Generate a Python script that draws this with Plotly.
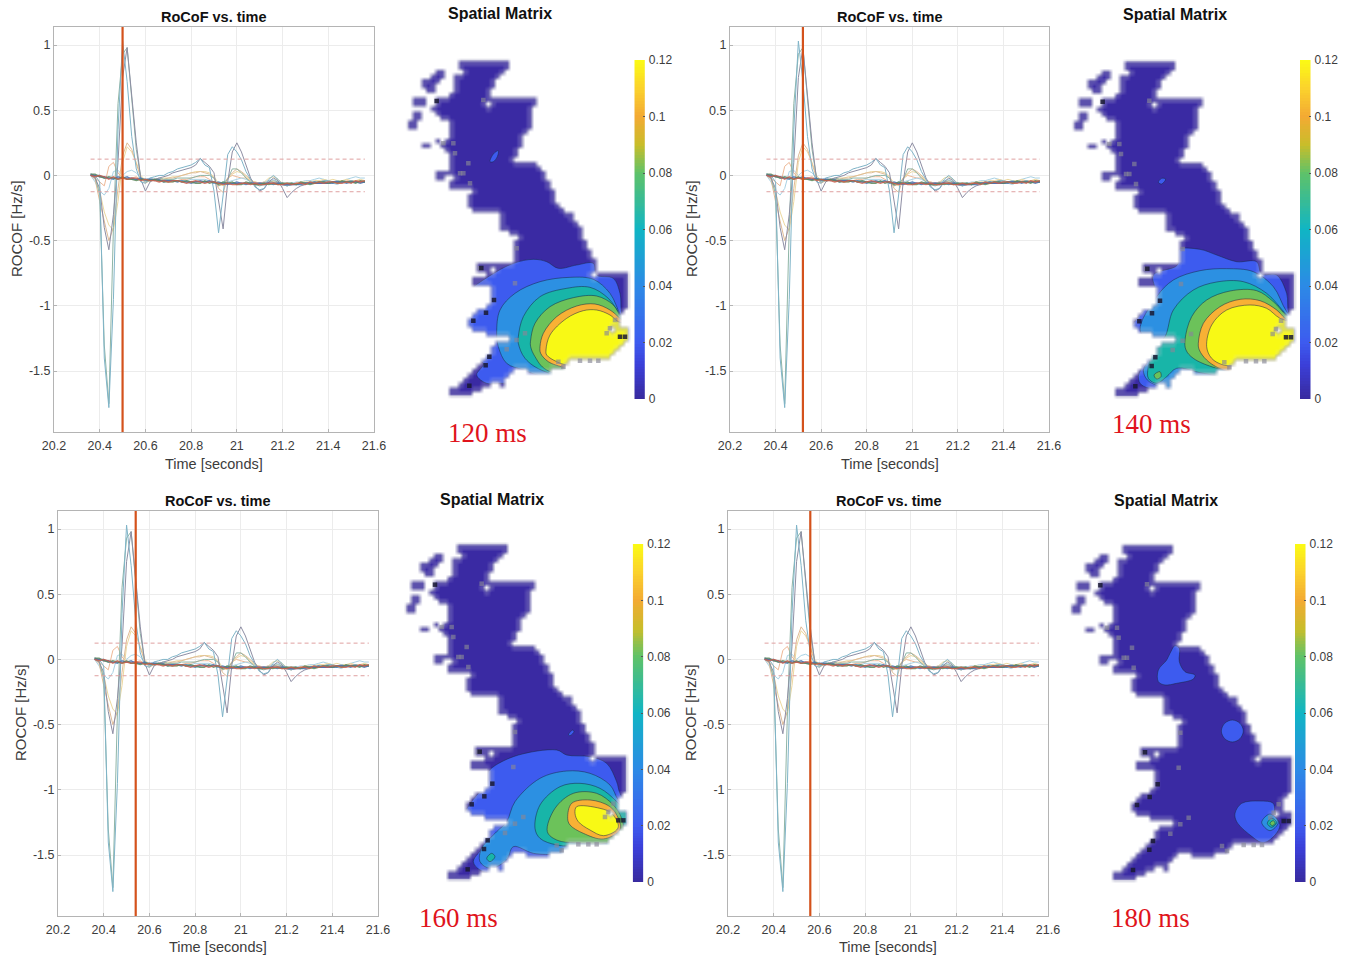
import plotly.graph_objects as go

W, H = 1351, 957

# ---------- time series (Hz/s), 0.02 s sampling ----------
TIME = [round(20.36 + 0.02 * i, 2) for i in range(61)]
S1 = [0.01,0.00,-0.05,-1.40,-1.78,-0.95,0.35,1.03,0.72,0.30,
      0.05,-0.05,-0.06,-0.02,-0.01,0.00,0.00,0.02,0.03,0.05,
      0.06,0.07,0.08,0.10,0.13,0.08,0.06,-0.12,-0.44,-0.15,
      0.16,0.22,0.18,0.12,0.03,-0.03,-0.09,-0.11,-0.10,-0.03,
      0.00,-0.03,-0.07,-0.08,-0.07,-0.07,-0.06,-0.06,-0.05,-0.05,
      -0.05,-0.04,-0.04,-0.05,-0.04,-0.05,-0.05,-0.04,-0.05,-0.05,
      -0.04]
S2 = [0.00,-0.02,-0.10,-0.40,-0.57,-0.30,0.10,0.75,0.98,0.62,
      0.25,-0.03,-0.12,-0.05,-0.03,-0.02,-0.01,0.00,0.02,0.03,
      0.04,0.05,0.06,0.08,0.13,0.10,0.07,0.02,-0.20,-0.41,
      -0.05,0.18,0.25,0.18,0.08,-0.02,-0.08,-0.12,-0.10,-0.05,
      -0.02,-0.04,-0.10,-0.17,-0.13,-0.10,-0.08,-0.07,-0.06,-0.06,
      -0.05,-0.05,-0.05,-0.05,-0.05,-0.05,-0.05,-0.04,-0.05,-0.05,
      -0.05]
S3 = [0.00,-0.01,-0.15,-1.30,-1.75,-0.40,0.55,0.93,0.98,0.60,
      0.20,-0.02,-0.05,-0.04,-0.03,-0.02,-0.03,-0.03,-0.03,-0.02,
      -0.02,-0.02,-0.02,-0.01,0.00,0.00,0.00,-0.02,-0.08,-0.06,
      -0.03,0.05,0.05,0.02,-0.02,-0.05,-0.07,-0.08,-0.07,-0.05,
      -0.04,-0.05,-0.07,-0.08,-0.07,-0.07,-0.06,-0.06,-0.06,-0.05,
      -0.05,-0.05,-0.05,-0.05,-0.05,-0.05,-0.05,-0.05,-0.05,-0.05,
      -0.05]
S4 = [0.00,-0.03,-0.20,-0.35,-0.50,-0.40,-0.10,0.15,0.25,0.20,
      0.08,-0.02,-0.06,-0.04,-0.04,-0.03,-0.03,-0.02,-0.02,-0.01,
      0.00,0.01,0.02,0.02,0.03,0.02,0.01,-0.02,-0.10,-0.13,
      -0.02,0.02,0.05,0.03,0.00,-0.03,-0.06,-0.07,-0.06,-0.05,
      -0.05,-0.06,-0.07,-0.08,-0.07,-0.07,-0.06,-0.06,-0.06,-0.05,
      -0.05,-0.05,-0.05,-0.05,-0.05,-0.05,-0.05,-0.05,-0.05,-0.05,
      -0.05]
S5 = [0.00,-0.02,-0.12,-0.28,-0.38,-0.42,-0.20,0.10,0.22,0.18,
      0.10,0.00,-0.04,-0.03,-0.03,-0.03,-0.02,-0.02,-0.01,-0.01,
      0.00,0.01,0.02,0.03,0.03,0.03,0.02,-0.01,-0.06,-0.08,
      -0.03,0.01,0.03,0.02,-0.01,-0.04,-0.05,-0.06,-0.05,-0.02,
      -0.01,-0.03,-0.06,-0.07,-0.07,-0.06,-0.05,-0.05,-0.05,-0.04,
      -0.04,-0.03,-0.04,-0.03,-0.04,-0.04,-0.03,-0.04,-0.04,-0.03,
      -0.04]
S6 = [0.00,-0.05,-0.12,-0.15,-0.10,0.03,0.04,0.00,0.03,0.04,
      0.02,-0.02,-0.03,-0.02,-0.03,-0.04,-0.03,-0.03,-0.03,-0.04,
      -0.04,-0.04,-0.03,-0.03,-0.03,-0.03,-0.04,-0.05,-0.06,-0.05,
      -0.05,-0.04,-0.03,-0.02,-0.03,-0.05,-0.06,-0.06,-0.05,-0.04,
      -0.03,-0.05,-0.06,-0.06,-0.06,-0.05,-0.05,-0.04,-0.04,-0.03,
      -0.02,-0.03,-0.04,-0.06,-0.07,-0.05,-0.03,-0.02,-0.01,-0.02,
      -0.02]
S7 = [0.00,-0.02,-0.05,-0.08,0.07,0.10,0.02,-0.02,-0.03,-0.02,
      -0.01,-0.03,-0.04,-0.04,-0.03,-0.03,-0.04,-0.05,-0.05,-0.04,
      -0.03,-0.03,-0.02,-0.01,-0.01,-0.01,-0.03,-0.05,-0.08,-0.07,
      -0.02,0.00,-0.01,-0.02,-0.02,-0.04,-0.05,-0.06,-0.05,-0.04,
      -0.05,-0.06,-0.06,-0.07,-0.07,-0.06,-0.06,-0.06,-0.05,-0.05,
      -0.05,-0.04,-0.04,-0.05,-0.05,-0.05,-0.04,-0.04,-0.04,-0.04,
      -0.04]
B1 = [0.00,0.00,-0.01,-0.01,-0.02,-0.02,-0.02,-0.02,-0.02,-0.02,
      -0.03,-0.03,-0.03,-0.03,-0.03,-0.04,-0.04,-0.04,-0.04,-0.04,
      -0.05,-0.05,-0.05,-0.05,-0.05,-0.05,-0.05,-0.05,-0.06,-0.06,
      -0.06,-0.06,-0.06,-0.06,-0.06,-0.06,-0.06,-0.06,-0.06,-0.06,
      -0.06,-0.06,-0.07,-0.07,-0.07,-0.07,-0.06,-0.06,-0.06,-0.06,
      -0.06,-0.06,-0.06,-0.05,-0.05,-0.05,-0.05,-0.05,-0.05,-0.05,
      -0.05]
B2 = [0.01,0.00,0.00,-0.02,-0.02,-0.03,-0.01,-0.02,-0.01,-0.03,
      -0.03,-0.02,-0.04,-0.03,-0.04,-0.03,-0.05,-0.04,-0.04,-0.05,
      -0.04,-0.05,-0.06,-0.05,-0.04,-0.05,-0.04,-0.06,-0.05,-0.06,
      -0.07,-0.06,-0.05,-0.06,-0.07,-0.06,-0.07,-0.06,-0.07,-0.06,
      -0.07,-0.06,-0.06,-0.07,-0.06,-0.07,-0.07,-0.06,-0.06,-0.05,
      -0.06,-0.05,-0.06,-0.06,-0.05,-0.05,-0.06,-0.05,-0.05,-0.06,
      -0.05]
B3 = [0.00,-0.01,0.00,-0.01,-0.03,-0.01,-0.03,-0.02,-0.03,-0.02,
      -0.02,-0.04,-0.03,-0.04,-0.04,-0.05,-0.04,-0.05,-0.04,-0.04,
      -0.05,-0.06,-0.05,-0.04,-0.05,-0.06,-0.05,-0.05,-0.06,-0.07,
      -0.06,-0.07,-0.07,-0.06,-0.06,-0.07,-0.06,-0.07,-0.07,-0.06,
      -0.06,-0.07,-0.07,-0.06,-0.07,-0.06,-0.06,-0.07,-0.05,-0.06,
      -0.05,-0.06,-0.05,-0.05,-0.06,-0.06,-0.05,-0.06,-0.04,-0.05,
      -0.04]
B4 = [0.01,0.01,-0.01,-0.02,-0.01,-0.02,-0.03,-0.01,-0.03,-0.03,
      -0.04,-0.03,-0.03,-0.04,-0.03,-0.04,-0.05,-0.05,-0.05,-0.04,
      -0.05,-0.04,-0.05,-0.06,-0.06,-0.04,-0.06,-0.05,-0.07,-0.05,
      -0.06,-0.05,-0.07,-0.07,-0.05,-0.06,-0.07,-0.07,-0.06,-0.07,
      -0.06,-0.07,-0.06,-0.06,-0.06,-0.07,-0.05,-0.06,-0.07,-0.06,
      -0.05,-0.05,-0.06,-0.05,-0.06,-0.04,-0.05,-0.05,-0.06,-0.04,
      -0.05]
THIN_SERIES = [(S7, "#eeb997"), (S6, "#a9d2e4"), (S5, "#ecd89f"), (S4, "#e0bb96"),
               (S3, "#8fb5a6"), (S2, "#8e8ea4"), (S1, "#7fb4c8")]
THICK_SERIES = [(B1, "#50509a"), (B2, "#4a78b0"), (B4, "#5e8a5c"), (B3, "#c8604c")]
THRESHOLD = 0.125
CURSOR_TIMES = [20.50, 20.52, 20.54, 20.56]
X_TICKS = [20.2, 20.4, 20.6, 20.8, 21.0, 21.2, 21.4, 21.6]
X_TICK_TEXT = ["20.2", "20.4", "20.6", "20.8", "21", "21.2", "21.4", "21.6"]
Y_TICKS = [1, 0.5, 0, -0.5, -1, -1.5]
Y_TICK_TEXT = ["1", "0.5", "0", "-0.5", "-1", "-1.5"]

# ---------- land raster: for each grid row, the (first, last) land columns ----------
LAND_RUNS = [
 [(11,21)],[(11,21)],[(6,7),(12,20)],[(5,7),(10,19)],[(3,6),(10,18)],[(3,5),(10,18)],[(4,5),(10,17)],
 [(9,17)],[(1,3),(6,7),(8,27)],[(1,3),(6,7),(8,16),(18,27)],[(5,26)],[(1,2),(6,26)],[(1,2),(7,26)],
 [(0,1),(9,26)],[(0,1),(9,26)],[(9,25)],[(9,24)],[(6,6),(8,24)],[(3,4),(7,24)],[(8,23)],[(9,23)],[(9,22)],
 [(9,27)],[(9,28)],[(6,29)],[(6,7),(10,29)],[(9,30)],[(9,30)],[(14,31)],[(13,31)],[(13,31)],[(13,19),(20,32)],
 [(14,19),(20,33)],[(20,35)],[(20,35)],[(20,36)],[(20,37)],[(22,37)],[(24,37)],[(23,38)],[(23,38)],[(23,39)],
 [(23,39)],[(23,40)],[(15,40)],[(15,17),(19,40)],[(17,39),(41,47)],[(14,16),(17,47)],[(14,47)],[(18,47)],
 [(18,47)],[(18,47)],[(18,47)],[(17,47)],[(15,46)],[(14,45)],[(13,45)],[(13,45)],[(14,43),(45,47)],[(17,47)],
 [(22,47)],[(19,46)],[(18,45)],[(18,44)],[(17,43)],[(16,34)],[(15,33)],[(14,22),(26,30)],[(13,21)],[(12,20)],
 [(11,17),(20,20)],[(9,15)],[(9,13)],
]
CELL = 13.8

# speckled cells, read on the first map
DARK_X = [244, 282, 258, 220, 268, 257, 208, 660, 675, 110]
DARK_Y = [804, 900, 938, 962, 1070, 1096, 1157, 1010, 1010, 303]
GRAY_X = [250, 205, 165, 160, 180, 210, 350, 375, 350, 320, 630, 645, 620, 475, 540, 570, 595, 490, 130, 240, 190, 345]
GRAY_Y = [300, 490, 460, 430, 520, 550, 745, 1000, 1020, 1048, 985, 960, 1000, 1085, 1082, 1082, 1082, 1100, 430, 805, 520, 850]

# ---------- contour regions of the spatial matrix ----------
INDIGO, BLUE, SKY, TEAL, GREEN, ORANGE, YELLOW = (
    "#3a2aa3", "#3d5bef", "#2c90e2", "#18b5a8", "#6cc25a", "#f8b135", "#f8f915")

MAP1 = [
 (BLUE, [265,340,400,440,475,530,580,590,640,660,668,710,710,330,300,260,230,250,150,150,200],
        [830,790,778,785,805,795,790,825,835,880,950,1000,1210,1150,1150,1150,1125,1090,1060,960,880]),
 (SKY, [290,300,345,420,510,580,630,665,710,710,430,370,320,295],
       [1000,930,880,845,832,838,880,950,1000,1160,1130,1110,1090,1040]),
 (TEAL, [355,370,420,500,570,625,665,710,710,435,375,355],
        [1010,950,890,865,862,895,950,1000,1160,1115,1075,1030]),
 (GREEN, [392,405,450,520,590,640,665,710,710,440,405,392],
         [1020,970,920,893,888,915,955,1000,1160,1110,1070,1040]),
 (ORANGE, [420,430,470,530,585,630,660,710,710,500,445,422],
          [1040,1000,950,918,912,930,955,1000,1160,1105,1085,1060]),
 (YELLOW, [438,450,500,550,590,630,655,725,725,640,600,500,470,440],
          [1050,1005,955,932,930,945,965,985,1085,1105,1100,1095,1085,1065]),
 (BLUE, [270,280,295,292,280], [485,462,452,470,485]),
]
MAP2 = [
 (BLUE, [280,352,355,420,470,530,590,605,650,680,688,735,735,340,245,235,260,200,235,285],
        [825,795,750,748,765,785,785,822,825,880,945,1000,1210,1175,1155,1130,1060,1010,950,880]),
 (SKY, [240,290,340,420,500,580,640,680,735,735,340,300,262,250,265,270],
       [990,890,840,812,806,815,860,935,1000,1210,1170,1160,1140,1110,1080,1030]),
 (TEAL, [315,340,400,470,550,620,680,735,735,430,350,320,290,265,265,285],
        [1010,930,870,846,845,880,945,1000,1160,1120,1105,1130,1150,1135,1100,1040]),
 (GREEN, [375,395,440,510,590,640,680,735,735,470,400,378],
         [1020,950,900,873,872,905,948,1000,1160,1105,1075,1050]),
 (GREEN, [282,300,303,290], [1125,1115,1130,1137]),
 (ORANGE, [415,430,480,540,600,650,675,735,735,490,440,418],
          [1030,970,920,898,902,930,955,1000,1160,1110,1080,1050]),
 (YELLOW, [440,455,500,570,620,660,745,745,640,560,490,455],
          [1040,975,930,915,925,955,985,1085,1105,1100,1095,1075]),
 (BLUE, [295,305,317,305], [547,535,537,552]),
]
MAP3 = [
 (BLUE, [265,340,470,500,570,620,650,660,705,705,300,240,220,250,190,215,262],
        [860,815,795,810,815,835,890,925,1000,1210,1170,1155,1130,1075,1000,950,890]),
 (SKY, [320,345,420,500,570,630,655,705,705,480,400,340,320,270,240,245,290],
       [1010,950,880,858,865,900,945,1000,1130,1110,1105,1085,1125,1150,1130,1090,1040]),
 (TEAL, [405,420,480,540,600,650,690,690,560,470,420],
        [1030,960,905,895,910,950,1000,1090,1085,1080,1060]),
 (TEAL, [260,275,285,270], [1120,1105,1115,1130]),
 (GREEN, [442,465,520,590,640,665,670,620,540,470],
         [1040,970,925,925,960,1000,1050,1075,1075,1065]),
 (ORANGE, [503,515,570,630,655,660,610,550,510],
          [1000,955,945,965,1000,1035,1062,1045,1020]),
 (YELLOW, [525,530,600,635,655,650,610,570,535],
          [985,965,970,985,1020,1035,1052,1035,1010]),
 (BLUE, [505,518,522,510], [750,735,740,752]),
]
MAP4 = [
 (BLUE, [345,358,358,375,405,400,350,315,295,295,320,330],
        [482,490,530,560,570,582,595,600,590,555,525,505]),
 (BLUE, [484,494,517,540,550,540,517,494], [738,715,705,715,738,761,771,761]),
 (BLUE, [525,545,600,640,645,660,645,610,570,530],
        [985,955,948,955,990,1020,1050,1073,1050,1010]),
 (SKY, [605,630,655,630], [1012,987,1012,1037]),
 (TEAL, [622,635,650,635], [1015,1000,1012,1027]),
 (GREEN, [630,640,645,637], [1015,1007,1015,1022]),
]
MAPS = [MAP1, MAP2, MAP3, MAP4]
COLORBAR_TICKS = [0, 0.02, 0.04, 0.06, 0.08, 0.1, 0.12]
COLORBAR_TEXT = ["0", "0.02", "0.04", "0.06", "0.08", "0.1", "0.12"]
COLORBAR_LEVELS = [i * 0.001 for i in range(121)]
PARULA = [[0, "#382a9e"], [0.1, "#3b3fd8"], [0.1667, "#3d5bef"], [0.3333, "#2c8ae6"], [0.5, "#10b5c4"],
          [0.6667, "#5fc268"], [0.75, "#c9bd2a"], [0.8333, "#f3aa33"], [0.9167, "#fbd22c"], [1, "#fbfb14"]]

# ---------- page layout helpers (reference pixels) ----------
def px(x): return x / W
def py(y): return 1 - y / H

PANELS = [
    dict(lines=(54, 374, 27, 432), ax="1", mapax="2", over="9", bar="13", origin=(400, 0), ox=22, oy=180, cb=(634.3, 60, 399),
         title=(214, 17), smx=(500, 13), ylab=(16, 229), xlab=(214, 464), ms=("120 ms", 487, 433)),
    dict(lines=(730, 1049, 27, 432), ax="3", mapax="4", over="10", bar="14", origin=(1060, 0), ox=40, oy=182, cb=(1300, 60, 399),
         title=(890, 17), smx=(1175, 15), ylab=(691, 229), xlab=(890, 464), ms=("140 ms", 1151, 424)),
    dict(lines=(58, 378, 511, 916), ax="5", mapax="6", over="11", bar="15", origin=(400, 485), ox=17, oy=176, cb=(632.7, 544, 882),
         title=(218, 501), smx=(492, 499), ylab=(20, 713), xlab=(218, 947), ms=("160 ms", 458, 918)),
    dict(lines=(728, 1048, 511, 916), ax="7", mapax="8", over="12", bar="16", origin=(1060, 485), ox=33, oy=178, cb=(1295, 544, 882),
         title=(889, 501), smx=(1166, 500), ylab=(690, 713), xlab=(888, 947), ms=("180 ms", 1150, 918)),
]
FONT = "Liberation Sans, Arial, sans-serif"
TXT = "#3c3c3c"
NROWS, NCOLS = len(LAND_RUNS), 48

fig = go.Figure()
layout = dict(width=W, height=H, autosize=False, margin=dict(l=0, r=0, t=0, b=0),
              paper_bgcolor="white", plot_bgcolor="rgba(0,0,0,0)", showlegend=False,
              font=dict(family=FONT, color=TXT))
annotations = []

def label(text, x, y, size, bold=False, angle=0, color=TXT, family=FONT):
    annotations.append(dict(text=f"<b>{text}</b>" if bold else text, x=px(x), y=py(y), xref="paper", yref="paper",
                            showarrow=False, xanchor="center", yanchor="middle", textangle=angle,
                            font=dict(size=size, color=color, family=family)))

# sea mask grid, two pad cells all round: 1 = sea, 0 = inland, 0.2 = coastal land cell
PAD = 2
def is_land(r, c):
    return 0 <= r < NROWS and any(s <= c <= e for s, e in LAND_RUNS[r])
sea = []
for r in range(-PAD, NROWS + PAD):
    row = []
    for c in range(-PAD, NCOLS + PAD):
        if not is_land(r, c):
            row.append(1)
        elif all(is_land(r + i, c + j) for i, j in ((1, 0), (-1, 0), (0, 1), (0, -1))):
            row.append(0)
        else:
            row.append(0.2)
    sea.append(row)

for p, regions, cursor in zip(PANELS, MAPS, CURSOR_TIMES):
    # --- line panel ---
    L, R, T, B = p["lines"]
    xa, ya = "x" + p["ax"], "y" + p["ax"]
    ylo, yhi = -1.967, 1.138
    for y_vals, col in THIN_SERIES:
        fig.add_trace(go.Scatter(x=TIME, y=y_vals, mode="lines", line=dict(color=col, width=1), xaxis=xa, yaxis=ya))
    for y_vals, col in THICK_SERIES:
        fig.add_trace(go.Scatter(x=TIME, y=y_vals, mode="lines", line=dict(color=col, width=1.3), opacity=0.85, xaxis=xa, yaxis=ya))
    for s in (THRESHOLD, -THRESHOLD):
        fig.add_trace(go.Scatter(x=[TIME[0], TIME[-1]], y=[s, s], mode="lines",
                                 line=dict(color="#dfa0a0", width=1, dash="4px,3px"), xaxis=xa, yaxis=ya))
    fig.add_trace(go.Scatter(x=[cursor, cursor], y=[ylo, yhi], mode="lines",
                             line=dict(color="#d4521c", width=2.2), xaxis=xa, yaxis=ya))
    axn = "xaxis" + p["ax"]
    ayn = "yaxis" + p["ax"]
    layout[axn] = dict(domain=[px(L), px(R)], range=[20.2, 21.6], anchor=ya, tickmode="array", tickvals=X_TICKS,
                       ticktext=X_TICK_TEXT, showline=True, linecolor="#b4b4b4", linewidth=1, mirror=True, automargin=False,
                       showgrid=True, gridcolor="#ececec", gridwidth=1, zeroline=False, ticks="inside", ticklen=3,
                       ticklabelstandoff=2, tickcolor="#b4b4b4", tickfont=dict(size=12.5, color=TXT, family=FONT))
    layout[ayn] = dict(domain=[py(B), py(T)], range=[ylo, yhi], anchor=xa, tickmode="array", tickvals=Y_TICKS,
                       ticktext=Y_TICK_TEXT, showline=True, linecolor="#b4b4b4", linewidth=1, mirror=True, automargin=False,
                       showgrid=True, gridcolor="#ececec", gridwidth=1, zeroline=False, ticks="inside", ticklen=3,
                       tickcolor="#b4b4b4", tickfont=dict(size=12.5, color=TXT, family=FONT))
    label("RoCoF vs. time", *p["title"], 14.5, bold=True, color="#111111")
    label("Spatial Matrix", *p["smx"], 16, bold=True, color="#111111")
    label("ROCOF [Hz/s]", *p["ylab"], 15, angle=-90)
    label("Time [seconds]", *p["xlab"], 14.5)
    label(p["ms"][0], p["ms"][1], p["ms"][2], 27, color="#e0141c", family="Liberation Serif, Times New Roman, serif")

    # --- map panel: regions live on the land box, the sea mask on a larger overlay ---
    ox, oy = p["ox"], p["oy"]
    X0, Y0 = p["origin"]
    xm, ym = "x" + p["mapax"], "y" + p["mapax"]
    xo, yo = "x" + p["over"], "y" + p["over"]
    a0, b0 = ox, ox + NCOLS * CELL
    c0, d0 = oy, oy + NROWS * CELL
    a, b = ox - CELL, ox + (NCOLS + 1) * CELL
    c, d = oy - CELL, oy + (NROWS + 1) * CELL
    fig.add_trace(go.Scatter(x=[a0, b0, b0, a0, a0], y=[c0, c0, d0, d0, c0], mode="lines", fill="toself",
                             fillcolor=INDIGO, line=dict(width=0), xaxis=xm, yaxis=ym))
    for col, xs, ys in regions:
        fig.add_trace(go.Scatter(x=xs + xs[:1], y=ys + ys[:1], mode="lines", fill="toself", fillcolor=col,
                                 line=dict(color="rgba(25,40,70,0.75)", width=0.7, shape="spline", smoothing=1.0),
                                 xaxis=xm, yaxis=ym))
    fig.add_trace(go.Heatmap(z=sea,
                             x=[ox + (i + 0.5) * CELL for i in range(-PAD, NCOLS + PAD)],
                             y=[oy + (i + 0.5) * CELL for i in range(-PAD, NROWS + PAD)],
                             zmin=0, zmax=1, zsmooth="best", showscale=False,
                             colorscale=[[0, "rgba(255,255,255,0)"], [0.2, "rgba(170,170,195,0.3)"], [0.6, "rgba(205,205,220,0.8)"], [1, "rgba(255,255,255,1)"]],
                             xaxis=xo, yaxis=yo))
    fig.add_trace(go.Scatter(x=[v + ox - 22 for v in GRAY_X], y=[v + oy - 180 for v in GRAY_Y], mode="markers",
                             marker=dict(symbol="square", size=4.5, color="rgba(135,135,150,0.65)"), xaxis=xo, yaxis=yo))
    fig.add_trace(go.Scatter(x=[v + ox - 22 for v in DARK_X], y=[v + oy - 180 for v in DARK_Y], mode="markers",
                             marker=dict(symbol="square", size=4.5, color="rgba(25,25,50,0.85)"), xaxis=xo, yaxis=yo))
    layout["xaxis" + p["mapax"]] = dict(domain=[px(X0 + a0 / 3), px(X0 + b0 / 3)], range=[a0, b0], anchor=ym, visible=False, automargin=False)
    layout["yaxis" + p["mapax"]] = dict(domain=[py(Y0 + d0 / 3), py(Y0 + c0 / 3)], range=[d0, c0], anchor=xm, visible=False, automargin=False)
    layout["xaxis" + p["over"]] = dict(domain=[px(X0 + a / 3), px(X0 + b / 3)], range=[a, b], anchor=yo, visible=False, automargin=False)
    layout["yaxis" + p["over"]] = dict(domain=[py(Y0 + d / 3), py(Y0 + c / 3)], range=[d, c], anchor=xo, visible=False, automargin=False)

    # --- colour bar ---
    cx, ct, cb = p["cb"]
    xb, yb = "x" + p["bar"], "y" + p["bar"]
    fig.add_trace(go.Heatmap(z=[[v] for v in COLORBAR_LEVELS], x=[0], y=COLORBAR_LEVELS, zmin=0, zmax=0.12,
                             colorscale=PARULA, showscale=False, xaxis=xb, yaxis=yb))
    layout["xaxis" + p["bar"]] = dict(domain=[px(cx), px(cx + 10.5)], range=[-0.5, 0.5], anchor=yb, visible=False, automargin=False)
    layout["yaxis" + p["bar"]] = dict(domain=[py(cb), py(ct)], range=[0, 0.12], anchor=xb, side="right", tickmode="array",
                                      tickvals=COLORBAR_TICKS, ticktext=COLORBAR_TEXT, ticks="inside", ticklen=2, automargin=False,
                                      ticklabelstandoff=3, tickcolor="#555555", showgrid=False, zeroline=False, showline=False,
                                      tickfont=dict(size=12, color=TXT, family=FONT))

layout["annotations"] = annotations
fig.update_layout(**layout)
fig.write_html("out.html", config={"displayModeBar": False}, post_script="document.body.style.margin='0';")
